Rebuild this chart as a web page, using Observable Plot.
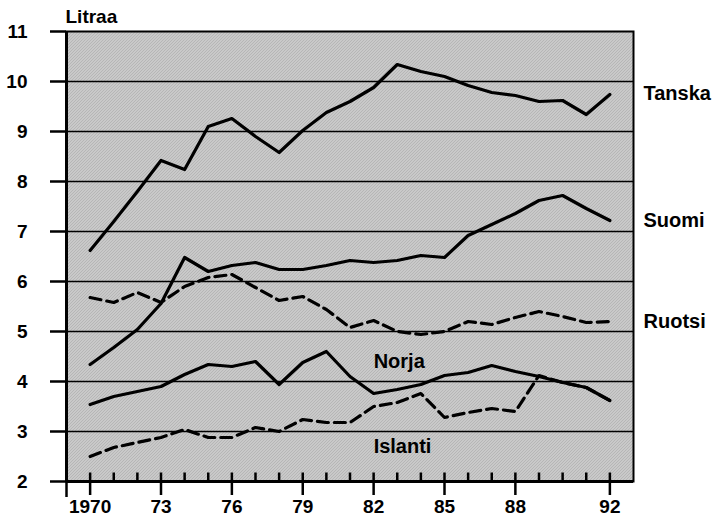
<!DOCTYPE html>
<html>
<head>
<meta charset="utf-8">
<script src="https://cdn.jsdelivr.net/npm/d3@7"></script>
<script src="https://cdn.jsdelivr.net/npm/@observablehq/plot@0.6"></script>
<style>
  html, body { margin: 0; padding: 0; background: white; }
  svg text, svg g[aria-label="y-axis tick label"], svg g[aria-label="x-axis tick label"] { font-weight: bold !important; font-family: 'Liberation Sans', Arial, sans-serif !important; }
</style>
</head>
<body>
<div id="chart"></div>
<script>
const years = [1970, 1971, 1972, 1973, 1974, 1975, 1976, 1977, 1978, 1979, 1980, 1981,
               1982, 1983, 1984, 1985, 1986, 1987, 1988, 1989, 1990, 1991, 1992];
const tanska  = [6.62, 7.2, 7.8, 8.42, 8.24, 9.1, 9.26, 8.9, 8.58, 9.02, 9.38, 9.6,
                 9.88, 10.34, 10.2, 10.1, 9.92, 9.78, 9.72, 9.6, 9.62, 9.34, 9.74];
const suomi   = [4.34, 4.68, 5.04, 5.56, 6.48, 6.2, 6.32, 6.38, 6.24, 6.24, 6.32, 6.42,
                 6.38, 6.42, 6.52, 6.48, 6.92, 7.14, 7.36, 7.62, 7.72, 7.46, 7.22];
const ruotsi  = [5.68, 5.58, 5.78, 5.58, 5.9, 6.08, 6.14, 5.88, 5.62, 5.7, 5.44, 5.08,
                 5.22, 5.0, 4.94, 5.0, 5.2, 5.14, 5.28, 5.4, 5.3, 5.18, 5.2];
const norja   = [3.54, 3.7, 3.8, 3.9, 4.14, 4.34, 4.3, 4.4, 3.94, 4.38, 4.6, 4.1,
                 3.76, 3.84, 3.94, 4.12, 4.18, 4.32, 4.2, 4.1, 3.98, 3.88, 3.62];
const islanti = [2.5, 2.68, 2.78, 2.88, 3.04, 2.88, 2.88, 3.08, 3.0, 3.24, 3.18, 3.18,
                 3.5, 3.58, 3.76, 3.28, 3.38, 3.46, 3.4, 4.12, 3.98, 3.88, 3.62];

const xTickYears = [1970, 1973, 1976, 1979, 1982, 1985, 1988, 1992];
const yTicks = [2, 3, 4, 5, 6, 7, 8, 9, 10, 11];
const gridValues = [3, 4, 5, 6, 7, 8, 9, 10];
const yUnit = "Litraa";

const seriesDefs = [
  {name: "Tanska", values: tanska, dashed: false},
  {name: "Suomi", values: suomi, dashed: false},
  {name: "Ruotsi", values: ruotsi, dashed: true},
  {name: "Norja", values: norja, dashed: false},
  {name: "Islanti", values: islanti, dashed: true}
];
// label anchor positions (year, value)
const labelNames = ["Tanska", "Suomi", "Ruotsi", "Norja", "Islanti"];
const labelYears = [1993, 1993, 1993, 1982, 1982];
const labelValues = [9.76, 7.22, 5.2, 4.39, 2.7];

const rows = seriesDefs.flatMap(s => years.map((yr, i) => ({series: s.name, year: yr, value: s.values[i], dashed: s.dashed})));
const solidRows = rows.filter(d => !d.dashed);
const dashedRows = rows.filter(d => d.dashed);
const labels = labelNames.map((n, i) => ({name: n, year: labelYears[i], value: labelValues[i]}));
const rightLabels = labels.filter(d => d.year === 1993);
const innerLabels = labels.filter(d => d.year !== 1993);

const svg = Plot.plot({
  width: 715,
  height: 517,
  marginLeft: 66,
  marginRight: 82,
  marginTop: 31,
  marginBottom: 36,
  x: {domain: [1969, 1993]},
  y: {domain: [2, 11]},
  style: {fontFamily: "'Liberation Sans', Arial, sans-serif", fontWeight: "bold", fontSize: "18px", background: "white", overflow: "visible"},
  marks: [
    Plot.frame({fill: "url(#stip)", stroke: "none"}),
    Plot.ruleY(gridValues, {stroke: "black", strokeWidth: 1.5}),
    Plot.line(solidRows, {x: "year", y: "value", z: "series", stroke: "black", strokeWidth: 3.2}),
    Plot.line(dashedRows, {x: "year", y: "value", z: "series", stroke: "black", strokeWidth: 3.2, strokeDasharray: "11,6"}),
    // short ticks pointing into the plot area
    Plot.ruleX(years, {x: d => d, y1: 2, y2: 2.17, stroke: "black", strokeWidth: 2.5}),
    Plot.frame({stroke: "black", strokeWidth: 2}),
    Plot.ruleX([1969], {stroke: "black", strokeWidth: 3}),
    Plot.ruleY([2], {stroke: "black", strokeWidth: 3}),
    Plot.axisY({ticks: yTicks, tickSize: 16, tickPadding: 23, strokeWidth: 2.5, tickFormat: d => String(d), label: null, fontSize: 19, fontWeight: "bold"}),
    Plot.axisX({ticks: xTickYears, tickSize: 14, tickPadding: 4, strokeWidth: 2.5, tickFormat: d => d === 1970 ? "1970" : String(d).slice(2), label: null, fontSize: 19, fontWeight: "bold"}),
    Plot.axisX({ticks: [1969], tickSize: 16, strokeWidth: 2.5, tickFormat: () => "", label: null}),
    Plot.text([yUnit], {frameAnchor: "top-left", dx: -1, dy: -14.5, textAnchor: "start", lineAnchor: "middle", fontSize: 19, fontWeight: "bold", fill: "black"}),
    Plot.text(rightLabels, {x: "year", y: "value", text: "name", textAnchor: "start", lineAnchor: "middle", dx: 10, fontSize: 20, fontWeight: "bold", fill: "black"}),
    Plot.text(innerLabels, {x: "year", y: "value", text: "name", textAnchor: "start", lineAnchor: "middle", fontSize: 20, fontWeight: "bold", fill: "black"})
  ]
});

// stipple pattern for plot background
const ns = "http://www.w3.org/2000/svg";
const defs = document.createElementNS(ns, "defs");
const pat = document.createElementNS(ns, "pattern");
pat.setAttribute("id", "stip");
pat.setAttribute("width", "3");
pat.setAttribute("height", "3");
pat.setAttribute("patternUnits", "userSpaceOnUse");
const bg = document.createElementNS(ns, "rect");
bg.setAttribute("width", "3"); bg.setAttribute("height", "3"); bg.setAttribute("fill", "#dcdcdc");
pat.appendChild(bg);
[[0,0],[2,1],[1,2]].forEach(([px, py]) => {
  const r = document.createElementNS(ns, "rect");
  r.setAttribute("x", px); r.setAttribute("y", py);
  r.setAttribute("width", "1"); r.setAttribute("height", "1");
  r.setAttribute("fill", "#909090");
  pat.appendChild(r);
});
defs.appendChild(pat);
svg.insertBefore(defs, svg.firstChild);

document.getElementById("chart").appendChild(svg);
</script>
</body>
</html>
